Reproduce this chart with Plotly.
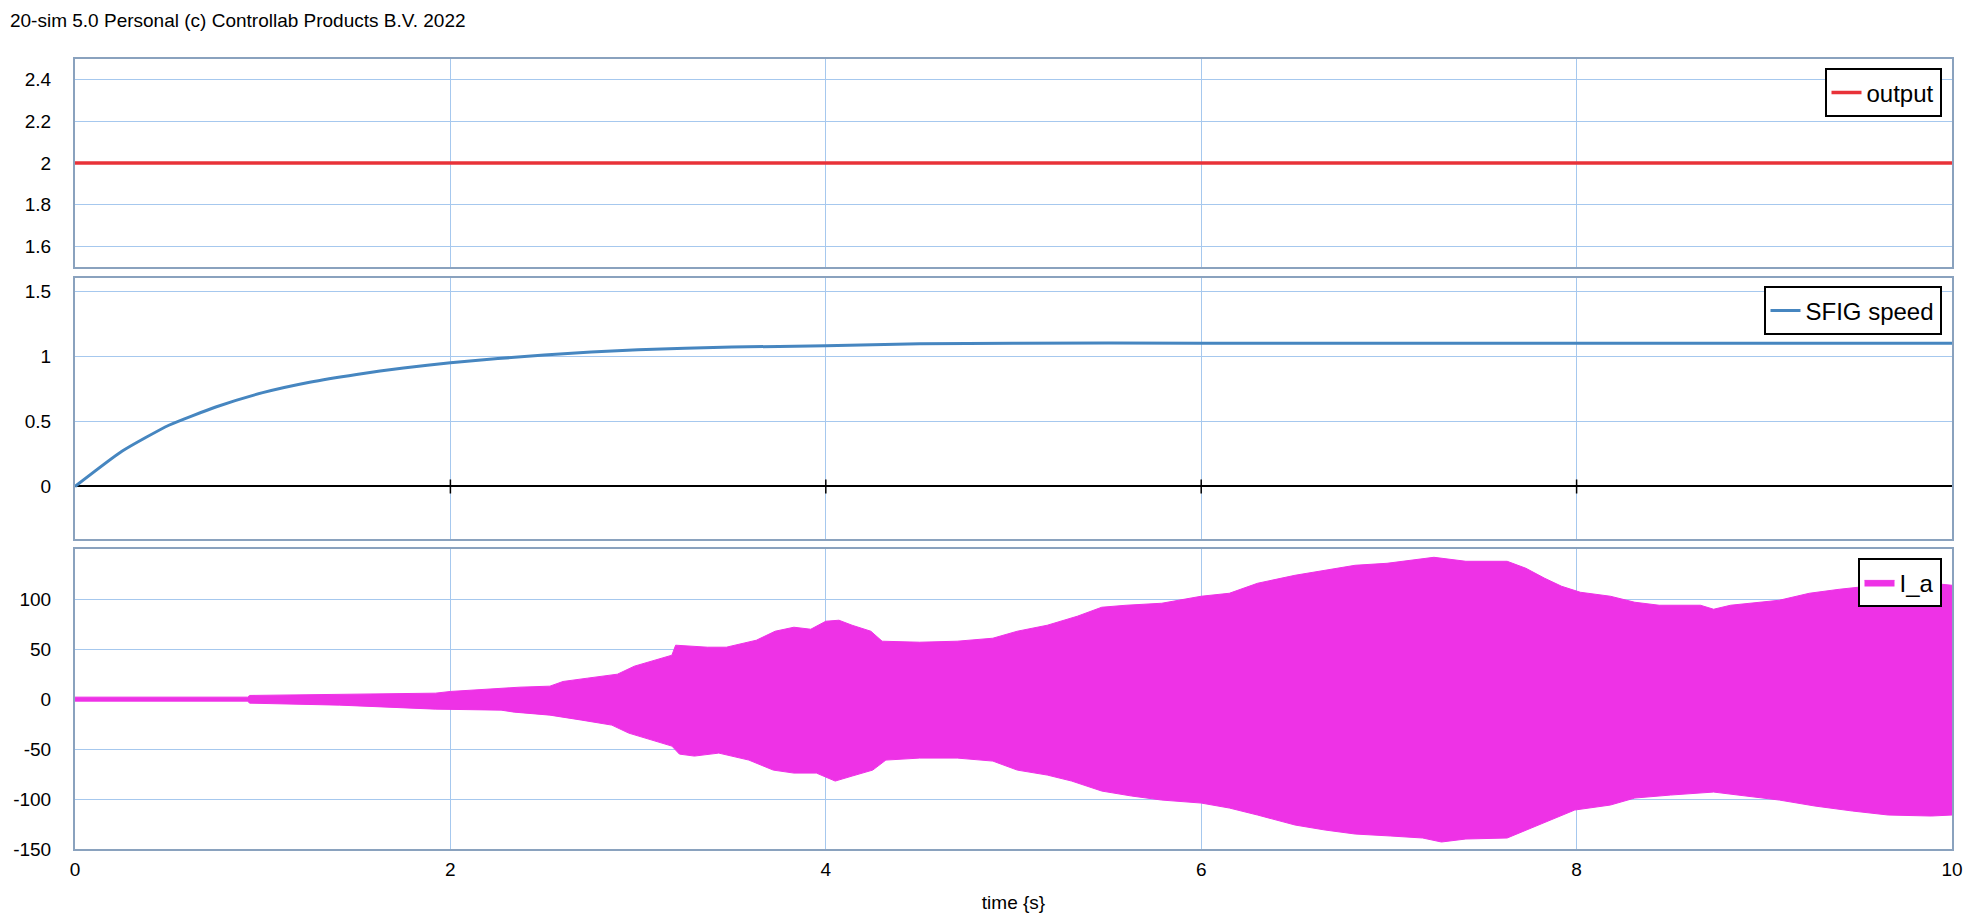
import plotly.graph_objects as go

# ---------------- data ----------------
t_output = [0, 10]
output_vals = [2.0, 2.0]

t_speed = [0, 0.25, 0.5, 0.75, 1.0, 1.25, 1.5, 1.75, 2.0, 2.5, 3.0, 3.5, 4.0, 4.5, 5.0, 6.0, 7.0, 8.0, 9.0, 10.0]
speed_vals = [0.0, 0.27, 0.47, 0.61, 0.72, 0.80, 0.86, 0.91, 0.95, 1.01, 1.05, 1.07, 1.08, 1.095, 1.10, 1.10, 1.10, 1.10, 1.10, 1.10]

t_upper = [0, 0.92, 0.93, 1.54, 1.66, 1.92, 2.0, 2.37, 2.53, 2.6, 2.73, 2.89, 2.98, 3.12, 3.18, 3.2, 3.37, 3.47,
           3.57, 3.63, 3.73, 3.83, 3.92, 4.0, 4.07, 4.14, 4.24, 4.3, 4.5, 4.7, 4.89, 5.02, 5.18, 5.34, 5.47,
           5.6, 5.79, 6.0, 6.15, 6.3, 6.5, 6.66, 6.82, 6.99, 7.08, 7.24, 7.41, 7.63, 7.73, 7.83, 7.92, 8.02,
           8.18, 8.31, 8.44, 8.66, 8.73, 8.82, 9.08, 9.24, 9.4, 9.6, 9.89, 10.0]
ia_upper = [2, 2, 3.7, 5, 6, 6, 7.7, 12, 13, 17.7, 21, 25, 33, 41, 44, 54, 52, 52,
            56, 59, 68, 72, 70, 78, 79, 74, 68, 58, 57, 58, 61, 68, 74, 83, 92,
            94, 96, 103, 106, 116, 124, 129, 134, 136, 138, 142, 138, 138, 131, 121, 113, 107,
            103, 97, 94, 94, 90, 94, 99, 106, 110, 114, 116, 114]

t_lower = [0, 0.92, 0.93, 1.41, 1.92, 2.27, 2.34, 2.53, 2.7, 2.86, 2.95, 3.08, 3.18, 3.22, 3.3, 3.43, 3.59,
           3.72, 3.83, 3.95, 4.05, 4.14, 4.25, 4.32, 4.5, 4.7, 4.89, 5.02, 5.18, 5.31, 5.47, 5.63, 5.79,
           6.0, 6.15, 6.3, 6.5, 6.66, 6.82, 7.01, 7.18, 7.28, 7.41, 7.63, 7.76, 7.89, 7.99, 8.18, 8.31,
           8.5, 8.73, 8.86, 9.08, 9.27, 9.47, 9.66, 9.89, 10.0]
ia_lower = [-2, -2, -4, -6, -10, -11, -13, -16, -21, -26, -34, -41, -47, -55, -57, -54, -61,
            -71, -74, -74, -82, -77, -71, -61, -59, -59, -62, -71, -76, -82, -92, -97, -101,
            -104, -109, -116, -126, -131, -135, -137, -139, -143, -140, -139, -129, -119, -111, -106, -99,
            -96, -93, -96, -101, -107, -112, -116, -117, -116]

x_ticks = [0, 2, 4, 6, 8, 10]
y1_ticks = [1.6, 1.8, 2.0, 2.2, 2.4]
y1_labels = ["1.6", "1.8", "2", "2.2", "2.4"]
y2_ticks = [0, 0.5, 1, 1.5]
y2_labels = ["0", "0.5", "1", "1.5"]
y3_ticks = [-150, -100, -50, 0, 50, 100]
y3_labels = ["-150", "-100", "-50", "0", "50", "100"]

# ---------------- styles ----------------
FONT = "Liberation Sans, Arial, sans-serif"
FS = 19
FRAME = "#8aa2be"
GRID = "#a6c8ee"
RED = "rgb(232,50,56)"
BLUE = "rgb(70,134,192)"
MAG = "rgb(238,50,230)"

OFF = 8  # default page body margin
W, H = 1977 - OFF, 920 - OFF
# plot-area edges in page pixels (as measured on the reference)
PX_L, PX_R, PX_T, PX_B = 75, 1952.5, 58.7, 848.7
L, R = PX_L - OFF, W - (PX_R - OFF)
T, B = PX_T - OFF, H - (PX_B - OFF)
plot_h = PX_B - PX_T
plot_w = PX_R - PX_L


def yfrac(ypage):
    return max(0.0, min(1.0, (PX_B - ypage) / plot_h))


def dom(top_px, bot_px):
    return [yfrac(bot_px), yfrac(top_px)]


fig = go.Figure()

fig.add_trace(go.Scatter(x=t_output, y=output_vals, mode="lines", name="output",
                         line=dict(color=RED, width=3.5), xaxis="x", yaxis="y", legend="legend"))

fig.add_trace(go.Scatter(x=t_speed, y=speed_vals, mode="lines", name="SFIG speed",
                         line=dict(color=BLUE, width=3, shape="spline", smoothing=0.5),
                         xaxis="x2", yaxis="y2", legend="legend2"))

# axis ticks on the zero line in the middle panel
mid_ticks = x_ticks[1:-1]
fig.add_trace(go.Scatter(x=mid_ticks, y=[0] * len(mid_ticks), mode="markers", showlegend=False,
                         marker=dict(symbol="line-ns", size=10, line=dict(color="black", width=1.5)),
                         xaxis="x2", yaxis="y2", hoverinfo="skip"))

fig.add_trace(go.Scatter(x=t_lower, y=ia_lower, mode="lines", showlegend=False,
                         line=dict(color=MAG, width=1), xaxis="x3", yaxis="y3", legend="legend3"))
fig.add_trace(go.Scatter(x=t_upper, y=ia_upper, mode="lines", name="I_a", fill="tonexty",
                         fillcolor=MAG, line=dict(color=MAG, width=1),
                         xaxis="x3", yaxis="y3", legend="legend3"))

axis_common = dict(showline=True, mirror=True, linecolor=FRAME, linewidth=2,
                   showgrid=True, gridcolor=GRID, gridwidth=1, zeroline=False,
                   tickfont=dict(family=FONT, size=FS, color="black"), ticks="",
                   automargin=False)

xcommon = dict(axis_common, range=[0, 10], tickvals=x_ticks)

d1 = dom(58.7, 266.7)
d2 = dom(277.7, 538.3)
d3 = dom(549, 848.7)

legend_common = dict(bgcolor="white", bordercolor="black", borderwidth=2,
                     font=dict(family=FONT, size=24, color="black"),
                     xanchor="right", yanchor="top", x=1 - (PX_R - 1942) / plot_w)

fig.update_layout(
    width=W, height=H,
    margin=dict(l=L, r=R, t=T, b=B, autoexpand=False),
    paper_bgcolor="white", plot_bgcolor="white",
    font=dict(family=FONT, size=FS, color="black"),
    title=dict(text="20-sim 5.0 Personal (c) Controllab Products B.V. 2022",
               x=(10 - OFF) / W, xanchor="left", xref="container",
               y=1 - (20 - OFF) / H, yanchor="middle", yref="container",
               font=dict(family=FONT, size=FS, color="black")),
    xaxis=dict(xcommon, anchor="y", showticklabels=False),
    xaxis2=dict(xcommon, anchor="y2", showticklabels=False, matches="x"),
    xaxis3=dict(xcommon, anchor="y3", matches="x",
                ticklabelstandoff=2,
                title=dict(text="time {s}", font=dict(family=FONT, size=FS, color="black"), standoff=17)),
    yaxis=dict(axis_common, domain=d1, range=[1.5, 2.5], tickvals=y1_ticks, ticktext=y1_labels,
               anchor="x", ticklabelstandoff=18),
    yaxis2=dict(axis_common, domain=d2, range=[-0.4, 1.6], tickvals=y2_ticks, ticktext=y2_labels,
                anchor="x2", ticklabelstandoff=18, zeroline=True, zerolinecolor="black", zerolinewidth=2),
    yaxis3=dict(axis_common, domain=d3, range=[-150, 150], tickvals=y3_ticks, ticktext=y3_labels,
                anchor="x3", ticklabelstandoff=18),
    legend=dict(legend_common, y=yfrac(68)),
    legend2=dict(legend_common, y=yfrac(286)),
    legend3=dict(legend_common, y=yfrac(558)),
    showlegend=True,
)

fig.write_html("out.html")
